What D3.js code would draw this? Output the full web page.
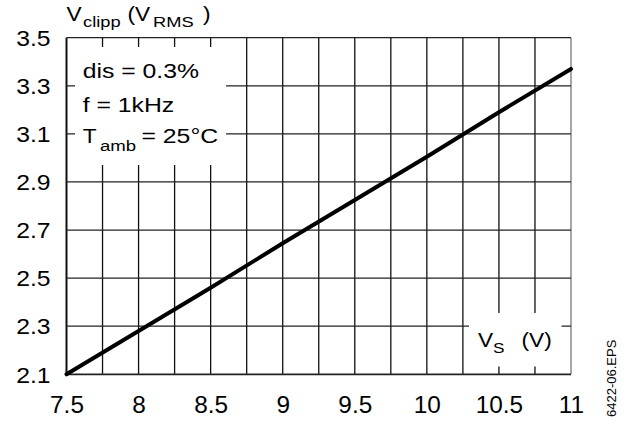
<!DOCTYPE html>
<html>
<head>
<meta charset="utf-8">
<script src="https://cdn.jsdelivr.net/npm/d3@7"></script>
<style>
  body { margin: 0; background: #fff; }
  text { font-family: "Liberation Sans", Arial, sans-serif; fill: #000; }
</style>
</head>
<body>
<svg id="chart" width="629" height="423"></svg>
<script>
// Data
let supplyVolts = [7.5, 8, 8.5, 9, 9.5, 10, 10.5, 11];
let clippVolts = [2.1, 2.28, 2.46, 2.645, 2.825, 3.005, 3.19, 3.37];
let xTickLabels = [7.5, 8, 8.5, 9, 9.5, 10, 10.5, 11];
let yTickLabels = [2.1, 2.3, 2.5, 2.7, 2.9, 3.1, 3.3, 3.5];
let xGridValues = [7.5, 7.75, 8, 8.25, 8.5, 8.75, 9, 9.25, 9.5, 9.75, 10, 10.25, 10.5, 10.75, 11];

let svg = d3.select("#chart");

let x = d3.scaleLinear().domain([7.5, 11]).range([66.5, 571]);
let y = d3.scaleLinear().domain([2.1, 3.5]).range([374.3, 37.7]);

// the original lettering is a bit wider than Arial, so stretch it
function label(px, py, size, sx, txt, anchor) {
  return svg.append("text")
    .attr("transform", "translate(" + px + "," + py + ") scale(" + sx + ",1)")
    .attr("text-anchor", anchor || "start")
    .style("font-size", size + "px")
    .text(txt);
}

// grid
let grid = svg.append("g");
grid.selectAll(".vline")
  .data(xGridValues)
  .enter().append("line")
  .attr("x1", d => x(d)).attr("x2", d => x(d))
  .attr("y1", y(3.5)).attr("y2", y(2.1))
  .attr("stroke", (d, i) => i == xGridValues.length - 1 ? "#777" : "#111")
  .attr("stroke-width", (d, i) => i == 0 ? 2 : 1.3);

grid.selectAll(".hline")
  .data(yTickLabels)
  .enter().append("line")
  .attr("x1", x(7.5)).attr("x2", x(11))
  .attr("y1", d => y(d)).attr("y2", d => y(d))
  .attr("stroke", "#222")
  .attr("stroke-width", (d, i) => i == 0 ? 1.8 : 1.2);

// white knockouts behind the annotation texts
svg.append("rect")
  .attr("x", 75).attr("y", 47)
  .attr("width", 151).attr("height", 118)
  .attr("fill", "#fff");
svg.append("rect")
  .attr("x", 469).attr("y", 313)
  .attr("width", 92.5).attr("height", 53.5)
  .attr("fill", "#fff");

// curve
let line = d3.line()
  .x((d, i) => x(supplyVolts[i]))
  .y(d => y(d));
svg.append("path")
  .datum(clippVolts)
  .attr("d", line)
  .attr("fill", "none")
  .attr("stroke", "#000")
  .attr("stroke-width", 4)
  .attr("stroke-linecap", "round");

// tick labels
let xAxis = d3.axisBottom(x)
  .tickValues(xTickLabels)
  .tickSize(0)
  .tickPadding(0)
  .tickFormat(d3.format(""));
let gx = svg.append("g")
  .attr("transform", "translate(0,413.3)")
  .call(xAxis);
gx.select(".domain").remove();
gx.selectAll("text")
  .attr("y", 0).attr("dy", 0)
  .attr("transform", "scale(1.06,1)")
  .style("font-size", "23px")
  .style("font-family", "'Liberation Sans', Arial, sans-serif");

let yAxis = d3.axisLeft(y)
  .tickValues(yTickLabels)
  .tickSize(0)
  .tickPadding(0)
  .tickFormat(d3.format(".1f"));
let gy = svg.append("g")
  .attr("transform", "translate(50.5,0)")
  .call(yAxis);
gy.select(".domain").remove();
gy.selectAll("text")
  .attr("x", 0).attr("dy", "0.36em")
  .attr("transform", "scale(1.15,1)")
  .style("font-size", "21.5px")
  .style("font-family", "'Liberation Sans', Arial, sans-serif");

// y title
label(66.5, 20.5, 21, 1.08, "V");
label(83, 27, 15, 1.22, "clipp");
label(127.5, 20.5, 21, 1.08, "(V");
label(153, 27, 15, 1.22, "RMS");
label(203, 20.5, 21, 1.08, ")");

// x title
label(478, 346.7, 21, 1.08, "V");
label(493, 353.3, 15, 1.15, "S");
label(521.5, 346.7, 21, 1.08, "(V)");

// conditions
label(82.7, 78.3, 21, 1.18, "dis = 0.3%");
label(82.7, 111.7, 21, 1.18, "f = 1kHz");
label(82.7, 143.3, 21, 1.08, "T");
label(100, 150.5, 15, 1.24, "amb");
label(141.5, 143.3, 21, 1.18, "= 25°C");

// figure code
svg.append("text")
  .attr("transform", "translate(616,417) rotate(-90)")
  .style("font-size", "13px")
  .text("6422-06.EPS");
</script>
</body>
</html>
